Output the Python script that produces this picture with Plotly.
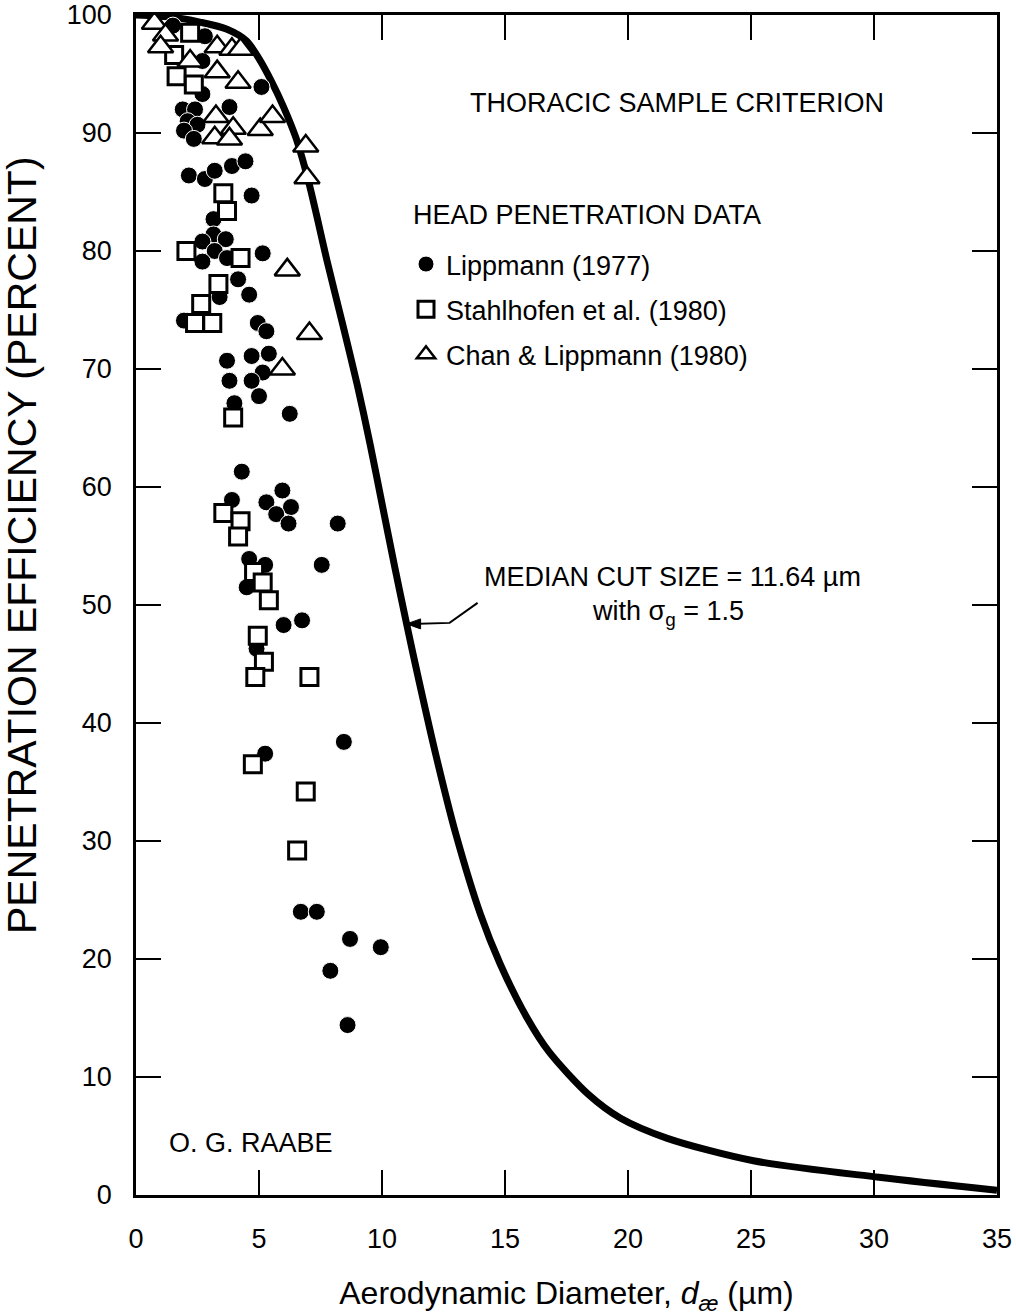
import plotly.graph_objects as go

FONT = "Liberation Sans, Arial, Helvetica, sans-serif"

# Thoracic sample criterion curve
curve_x = [0, 1.5, 2.6, 3.7, 4.5, 5.0, 5.5, 6.0, 6.5, 7.0, 7.4, 7.75, 8.4, 9.0, 9.5,
           10.0, 10.5, 11.0, 11.5, 12.2, 13.0, 14.0, 14.8, 15.9, 16.8, 18.4, 19.7, 21.6,
           25.1, 30.2, 35]
curve_y = [100, 99.8, 99.4, 98.8, 97.8, 96.3, 94.4, 92.2, 89.6, 86.0, 82.5, 79.3, 73.8,
           68.6, 63.8, 58.6, 53.4, 48.4, 43.6, 37.2, 30.6, 23.8, 19.6, 15.0, 12.1, 8.5,
           6.5, 4.8, 2.9, 1.5, 0.4]

# Lippmann (1977) - filled circles
lipp_x = [1.5, 2.8, 2.7, 2.7, 5.1, 3.8, 1.9, 2.4, 2.1, 2.5, 1.95, 2.35, 3.9, 4.45, 2.15,
          2.8, 3.2, 4.7, 3.15, 3.15, 2.7, 3.65, 3.2, 2.7, 3.7, 5.15, 4.15, 4.6, 3.4, 1.95,
          4.95, 5.3, 3.7, 4.7, 5.4, 5.15, 3.8, 4.7, 5.0, 6.25, 4.0, 4.3, 3.9, 5.95, 5.3,
          6.3, 5.7, 6.2, 8.2, 4.6, 5.25, 7.55, 4.5, 6.0, 6.75, 4.9, 5.25, 8.45, 6.7, 7.35,
          8.7, 9.95, 7.9, 8.6]
lipp_y = [99.1, 98.2, 96.1, 93.3, 93.9, 92.2, 92.0, 92.0, 91.0, 90.7, 90.2, 89.5, 87.2,
          87.6, 86.4, 86.1, 86.8, 84.7, 82.7, 81.4, 80.8, 81.0, 80.0, 79.1, 79.4, 79.8,
          77.6, 76.3, 76.1, 74.1, 73.9, 73.2, 70.7, 71.1, 71.3, 69.7, 69.0, 69.0, 67.7,
          66.2, 67.1, 61.3, 58.9, 59.7, 58.7, 58.3, 57.7, 56.9, 56.9, 53.9, 53.4, 53.4,
          51.5, 48.3, 48.7, 46.3, 37.4, 38.4, 24.0, 24.0, 21.7, 21.0, 19.0, 14.4]

# Stahlhofen et al. (1980) - open squares
stahl_x = [2.2, 1.55, 1.65, 2.35, 3.55, 3.7, 2.05, 4.25, 3.35, 2.65, 2.4, 3.1, 3.95,
           3.55, 4.25, 4.15, 4.8, 5.15, 5.4, 4.95, 5.2, 4.85, 7.05, 4.75, 6.9, 6.55]
stahl_y = [98.5, 96.6, 94.8, 94.1, 84.9, 83.4, 80.0, 79.4, 77.2, 75.5, 73.9, 73.9, 65.9,
           57.8, 57.1, 55.8, 52.8, 51.9, 50.4, 47.4, 45.2, 43.9, 43.9, 36.5, 34.2, 29.2]

# Chan & Lippmann (1980) - open triangles
chan_x = [0.75, 1.2, 1.0, 2.2, 3.3, 3.9, 4.25, 3.3, 4.15, 3.25, 3.95, 3.2, 3.8, 5.05,
          5.55, 6.9, 6.95, 6.15, 7.05, 5.95]
chan_y = [99.3, 98.3, 97.3, 96.1, 97.3, 97.1, 97.1, 95.2, 94.3, 91.4, 90.4, 89.6, 89.5,
          90.3, 91.4, 88.9, 86.2, 78.4, 73.0, 70.0]

x_ticks = [0, 5, 10, 15, 20, 25, 30, 35]
y_ticks = [0, 10, 20, 30, 40, 50, 60, 70, 80, 90, 100]

# plot-area geometry (pixels)
W, H = 1016, 1316
L, R, T, B = 136, 19, 15, 121
PW, PH = W - L - R, H - T - B


def px(x):
    return (x - L) / PW


def py(y):
    return (H - B - y) / PH


fig = go.Figure()

fig.add_trace(go.Scatter(
    x=curve_x, y=curve_y, mode="lines", showlegend=False, hoverinfo="skip",
    line=dict(color="black", width=7, shape="spline", smoothing=0.8)))

fig.add_trace(go.Scatter(
    x=lipp_x, y=lipp_y, mode="markers", name="Lippmann (1977)", legendgroup="a",
    marker=dict(symbol="circle", size=17, color="black", line=dict(color="white", width=1))))

fig.add_trace(go.Scatter(
    x=stahl_x, y=stahl_y, mode="markers", name="Stahlhofen et al. (1980)", legendgroup="b",
    marker=dict(symbol="square", size=17, color="white", line=dict(color="black", width=3))))

fig.add_trace(go.Scatter(
    x=chan_x, y=chan_y, mode="markers", name="Chan &amp; Lippmann (1980)", legendgroup="c",
    marker=dict(symbol="triangle-up", size=22, color="white", line=dict(color="black", width=2.5))))

axis_common = dict(
    showline=True, linewidth=2.5, linecolor="black", mirror="ticks",
    ticks="inside", ticklen=25, tickwidth=2, tickcolor="black",
    showgrid=False, zeroline=False, ticklabeloverflow="allow", automargin=False,
    tickfont=dict(family=FONT, size=27, color="black"),
)

fig.update_xaxes(range=[0, 35], tickvals=x_ticks, ticktext=[str(v) for v in x_ticks],
                 ticklabelstandoff=18,
                 title=dict(text="Aerodynamic Diameter, <i>d</i><sub><i>æ</i></sub> (µm)",
                            font=dict(family=FONT, size=32, color="black"), standoff=30),
                 **axis_common)
fig.update_yaxes(range=[0, 100], tickvals=y_ticks, ticktext=[str(v) for v in y_ticks],
                 ticklabelstandoff=16, **axis_common)

# arrow pointing at the curve (tip taken from the curve data)
tip_i = curve_x.index(11.0)
tx, ty = curve_x[tip_i], curve_y[tip_i]
ux = 35 / PW      # data units per pixel, x
uy = 100 / PH     # data units per pixel, y
kx, ky = tx + 43 * ux, ty + 1 * uy
ex, ey = tx + 71 * ux, ty + 21 * uy
arrow_path = f"M {ex} {ey} L {kx} {ky} L {tx + 4 * ux} {ty}"
head_path = (f"M {tx} {ty} L {tx + 14 * ux} {ty + 5 * uy} "
             f"L {tx + 14 * ux} {ty - 5 * uy} Z")

fig.update_layout(
    width=W, height=H,
    margin=dict(l=L, r=R, t=T, b=B, autoexpand=False),
    paper_bgcolor="white", plot_bgcolor="white",
    font=dict(family=FONT, color="black"),
    legend=dict(
        x=px(406), y=py(240), xanchor="left", yanchor="top",
        bgcolor="rgba(0,0,0,0)", borderwidth=0,
        font=dict(family=FONT, size=27, color="black"),
        tracegroupgap=7, itemsizing="trace",
    ),
    annotations=[
        dict(text="PENETRATION EFFICIENCY (PERCENT)", textangle=-90,
             xref="paper", yref="paper", x=px(22), y=py(545),
             xanchor="center", yanchor="middle", showarrow=False,
             font=dict(family=FONT, size=41)),
        dict(text="THORACIC SAMPLE CRITERION", xref="paper", yref="paper",
             x=px(468), y=py(103), xanchor="left", yanchor="middle", showarrow=False,
             font=dict(family=FONT, size=27)),
        dict(text="HEAD PENETRATION DATA", xref="paper", yref="paper",
             x=px(411), y=py(215), xanchor="left", yanchor="middle", showarrow=False,
             font=dict(family=FONT, size=27)),
        dict(text="MEDIAN CUT SIZE = 11.64 µm", xref="paper", yref="paper",
             x=px(672), y=py(577), xanchor="center", yanchor="middle", showarrow=False,
             font=dict(family=FONT, size=27)),
        dict(text="with σ<sub>g</sub> = 1.5", xref="paper", yref="paper",
             x=px(668), y=py(613), xanchor="center", yanchor="middle", showarrow=False,
             font=dict(family=FONT, size=27)),
        dict(text="O. G. RAABE", xref="paper", yref="paper",
             x=px(167), y=py(1143), xanchor="left", yanchor="middle", showarrow=False,
             font=dict(family=FONT, size=27)),
    ],
    shapes=[
        dict(type="path", xref="x", yref="y", path=arrow_path,
             line=dict(color="black", width=2)),
        dict(type="path", xref="x", yref="y", path=head_path,
             fillcolor="black", line=dict(color="black", width=1)),
    ],
)

fig.write_html("out.html")
